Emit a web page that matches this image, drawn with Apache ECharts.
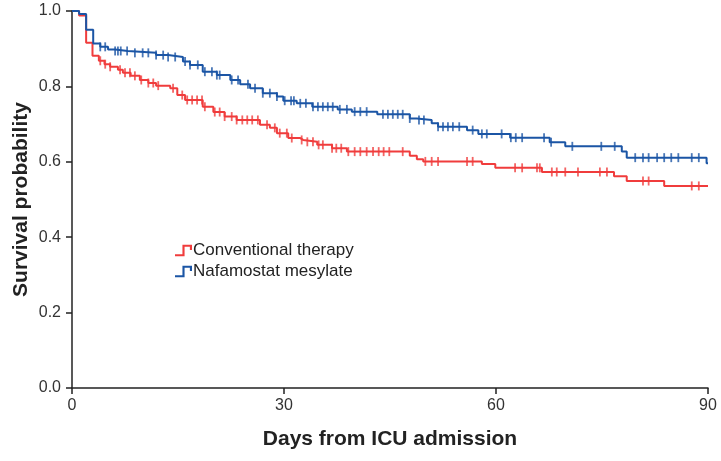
<!DOCTYPE html>
<html>
<head>
<meta charset="utf-8">
<script src="https://cdn.jsdelivr.net/npm/echarts@6/dist/echarts.min.js"></script>
<style>
  html, body { margin: 0; padding: 0; background: #fff; }
  #chart { width: 721px; height: 461px; }
</style>
</head>
<body>
<div id="chart"></div>
<script>
// Kaplan-Meier steps: [day, survival from that day on]
var conventionalSteps = [
    [0, 1], [1.0, 0.988], [2.0, 0.916], [2.9, 0.881], [3.8, 0.868], [4.6, 0.859],
    [5.4, 0.852], [6.5, 0.844], [7.2, 0.836], [8.3, 0.828], [9.6, 0.817], [10.8, 0.809],
    [11.9, 0.802], [13.9, 0.795], [14.9, 0.777], [16.0, 0.764], [18.5, 0.746], [20.0, 0.732],
    [21.6, 0.720], [23.3, 0.711], [26.6, 0.698], [28.0, 0.690], [29.0, 0.676], [30.6, 0.663],
    [32.3, 0.658], [32.7, 0.653], [34.7, 0.645], [36.8, 0.636], [38.9, 0.627], [47.8, 0.616],
    [48.8, 0.607], [49.7, 0.601], [58.0, 0.594], [59.9, 0.584], [66.5, 0.573], [76.7, 0.562],
    [78.5, 0.549], [83.8, 0.536], [90, 0.536]
]
var nafamostatSteps = [
    [0, 1], [1.0, 0.992], [2.0, 0.950], [3.0, 0.914], [4.0, 0.905], [5.1, 0.898],
    [6.1, 0.894], [7.9, 0.889], [11.9, 0.883], [13.6, 0.878], [15.7, 0.866], [16.7, 0.857],
    [18.5, 0.839], [20.5, 0.830], [22.4, 0.817], [23.8, 0.806], [25.2, 0.795], [27.0, 0.782],
    [29.0, 0.773], [29.9, 0.762], [31.8, 0.755], [34.0, 0.746], [37.6, 0.739], [39.6, 0.733],
    [43.2, 0.726], [47.8, 0.715], [48.8, 0.711], [50.9, 0.702], [51.8, 0.693], [55.9, 0.684],
    [57.5, 0.674], [62.0, 0.664], [67.6, 0.652], [69.8, 0.641], [77.8, 0.627], [78.5, 0.611],
    [89.8, 0.596], [90, 0.596]
]
// censored observations (days)
var conventionalCensor = [
    4.0, 4.7, 5.4, 6.8, 7.5, 8.2, 8.9, 9.8, 10.8, 11.5, 12.2, 14.3, 15.6, 16.3, 17.0, 17.7,
    18.4, 18.8, 20.2, 20.9, 21.6, 22.6, 23.3, 24.1, 24.8, 25.5, 26.3, 27.6, 28.7, 29.4, 30.4,
    31.1, 32.5, 33.3, 34.1, 34.9, 35.5, 36.8, 37.4, 38.1, 39.1, 40.0, 40.8, 41.7, 42.6, 43.4,
    44.1, 44.9, 46.8, 50.0, 50.9, 51.8, 55.9, 56.7, 62.7, 63.7, 65.8, 66.2, 67.9, 68.6, 69.8,
    71.6, 74.7, 75.7, 80.8, 81.6, 87.7, 88.7
]
var nafamostatCensor = [
    4.0, 4.7, 6.1, 6.5, 6.9, 7.8, 8.9, 10.0, 10.8, 11.9, 12.9, 13.6, 14.6, 16.0, 16.7, 17.8,
    18.8, 19.8, 20.5, 20.9, 22.6, 23.5, 24.9, 25.9, 27.0, 28.0, 29.0, 30.1, 31.0, 31.4, 32.3,
    33.1, 34.1, 34.8, 35.5, 36.2, 36.9, 37.9, 38.9, 40.0, 40.8, 41.7, 44.0, 44.7, 45.4, 46.1,
    46.8, 47.8, 49.1, 49.8, 51.8, 52.5, 53.2, 53.9, 54.8, 56.7, 58.0, 58.7, 60.8, 62.1, 62.8,
    63.7, 66.8, 67.8, 70.8, 74.9, 76.8, 79.7, 80.8, 81.6, 82.8, 83.8, 84.8, 85.8, 87.7, 88.7
]
var xTicks = [0, 30, 60, 90]
var yTicks = [0, 0.2, 0.4, 0.6, 0.8, 1.0]

var RED = '#f03c3c'
var BLUE = '#1b55a5'
var FONT = 'Liberation Sans, Arial, sans-serif'

// survival value of a step curve at time t
function survivalAt(steps, t) {
    var s = steps[0][1]
    for (var i = 0; i < steps.length; i++) {
        if (steps[i][0] <= t) s = steps[i][1]
    }
    return s
}

function censorPoints(steps, times) {
    return times.map(function(t) {
        return [t, survivalAt(steps, t)]
    })
}

window.onload = function() {
    var chart = echarts.init(document.getElementById('chart'), null, { renderer: 'canvas' })

    // little KM step as the legend glyph
    var stepIcon = 'path://M0,9 L7,9 L7,0 L16,0 L16,5 L14,5 L14,2 L9,2 L9,11 L0,11 Z'

    var option = {
        animation: false,
        backgroundColor: '#fff',
        grid: { left: 72, right: 13, top: 11, bottom: 73 },
        legend: {
            orient: 'vertical',
            left: 170,
            top: 237,
            itemGap: 4,
            itemWidth: 17,
            itemHeight: 12,
            textStyle: { fontFamily: FONT, fontSize: 17, color: '#222', padding: [0, 0, 0, -4] },
            data: [
                { name: 'Conventional therapy', icon: stepIcon, itemStyle: { color: RED } },
                { name: 'Nafamostat mesylate', icon: stepIcon, itemStyle: { color: BLUE } }
            ]
        },
        xAxis: {
            type: 'value',
            min: xTicks[0],
            max: xTicks[xTicks.length - 1],
            interval: 30,
            name: 'Days from ICU admission',
            nameLocation: 'middle',
            nameGap: 41,
            nameTextStyle: { fontFamily: FONT, fontSize: 21, fontWeight: 'bold', color: '#222' },
            axisLine: { lineStyle: { color: '#222', width: 1.5 } },
            axisTick: { length: 6, lineStyle: { color: '#222', width: 1.5 } },
            axisLabel: { margin: 10, fontFamily: FONT, fontSize: 16, color: '#333' },
            splitLine: { show: false }
        },
        yAxis: {
            type: 'value',
            min: yTicks[0],
            max: yTicks[yTicks.length - 1],
            interval: 0.2,
            name: 'Survival probability',
            nameLocation: 'middle',
            nameGap: 40,
            nameMoveOverlap: false,
            nameTextStyle: { fontFamily: FONT, fontSize: 21, fontWeight: 'bold', color: '#222' },
            axisLine: { show: true, lineStyle: { color: '#222', width: 1.5 } },
            axisTick: { show: true, length: 6, lineStyle: { color: '#222', width: 1.5 } },
            axisLabel: {
                margin: 11, fontFamily: FONT, fontSize: 16, color: '#333',
                formatter: function(v) { return v.toFixed(1) }
            },
            splitLine: { show: false }
        },
        series: [
            {
                name: 'Conventional therapy',
                type: 'line',
                step: 'end',
                data: conventionalSteps,
                showSymbol: false,
                lineStyle: { color: RED, width: 2 },
                itemStyle: { color: RED },
                z: 2
            },
            {
                name: 'Conventional censored',
                type: 'scatter',
                data: censorPoints(conventionalSteps, conventionalCensor),
                symbol: 'rect',
                symbolSize: [1.8, 9],
                itemStyle: { color: RED },
                z: 3
            },
            {
                name: 'Nafamostat mesylate',
                type: 'line',
                step: 'end',
                data: nafamostatSteps,
                showSymbol: false,
                lineStyle: { color: BLUE, width: 2 },
                itemStyle: { color: BLUE },
                z: 4
            },
            {
                name: 'Nafamostat censored',
                type: 'scatter',
                data: censorPoints(nafamostatSteps, nafamostatCensor),
                symbol: 'rect',
                symbolSize: [1.8, 9],
                itemStyle: { color: BLUE },
                z: 5
            }
        ]
    }
    chart.setOption(option)
}
</script>
</body>
</html>
